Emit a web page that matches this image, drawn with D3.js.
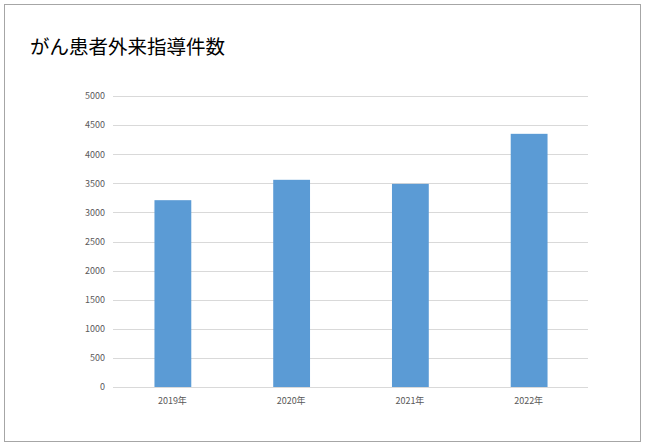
<!DOCTYPE html>
<html>
<head>
<meta charset="utf-8">
<title>がん患者外来指導件数</title>
<style>
  body, html { margin: 0; padding: 0; background: #fff; }
  .tick text { font-family: "Noto Sans CJK JP", "Noto Sans", sans-serif; font-size: 9px; fill: #595959; }
</style>
</head>
<body>
<svg id="svg" width="645" height="448"></svg>
<script src="https://d3js.org/d3.v7.min.js"></script>
<script>
// data
const years = ['2019年', '2020年', '2021年', '2022年']
const counts = [3210, 3560, 3490, 4350]
const yTicks = [0, 500, 1000, 1500, 2000, 2500, 3000, 3500, 4000, 4500, 5000]

const svg = d3.select('#svg')

// outer frame
svg.append('rect')
  .attr('x', 4.5).attr('y', 4.5)
  .attr('width', 636).attr('height', 437)
  .attr('fill', '#fff')
  .attr('stroke', '#a6a6a6')

// title
svg.append('text')
  .attr('x', 30).attr('y', 54)
  .style('font-family', '"Noto Sans CJK JP", sans-serif')
  .style('font-size', '19.5px')
  .style('fill', '#000')
  .text('がん患者外来指導件数')

// plot area
const plotLeft = 113, plotRight = 588, plotTop = 96, plotBottom = 387

const x = d3.scaleBand()
  .domain(years)
  .range([plotLeft, plotRight])
  .padding(0)

const y = d3.scaleLinear()
  .domain([0, 5000])
  .range([plotBottom, plotTop])

// gridlines
svg.append('g')
  .selectAll('line')
  .data(yTicks)
  .join('line')
  .attr('x1', plotLeft).attr('x2', plotRight)
  .attr('y1', d => Math.round(y(d)) + 0.5)
  .attr('y2', d => Math.round(y(d)) + 0.5)
  .attr('stroke', '#d9d9d9')

// y labels
const yAxis = svg.append('g')
  .attr('transform', `translate(${plotLeft - 8},0)`)
  .call(d3.axisLeft(y).tickValues(yTicks).tickFormat(d3.format('d')).tickSize(0).tickPadding(0))
yAxis.select('.domain').remove()

// bars, about 31% of the band
const barW = x.bandwidth() * 0.31
svg.append('g')
  .selectAll('rect')
  .data(counts)
  .join('rect')
  .attr('x', (d, i) => x(years[i]) + (x.bandwidth() - barW) / 2 + 0.5)
  .attr('width', barW)
  .attr('y', d => y(d))
  .attr('height', d => plotBottom - y(d))
  .attr('fill', '#5b9bd5')

// x axis line
svg.append('line')
  .attr('x1', plotLeft).attr('x2', plotRight)
  .attr('y1', plotBottom + 0.5).attr('y2', plotBottom + 0.5)
  .attr('stroke', '#d9d9d9')

const xAxis = svg.append('g')
  .attr('transform', `translate(0,${plotBottom})`)
  .call(d3.axisBottom(x).tickSize(0).tickPadding(11))
xAxis.select('.domain').remove()
</script>
</body>
</html>
